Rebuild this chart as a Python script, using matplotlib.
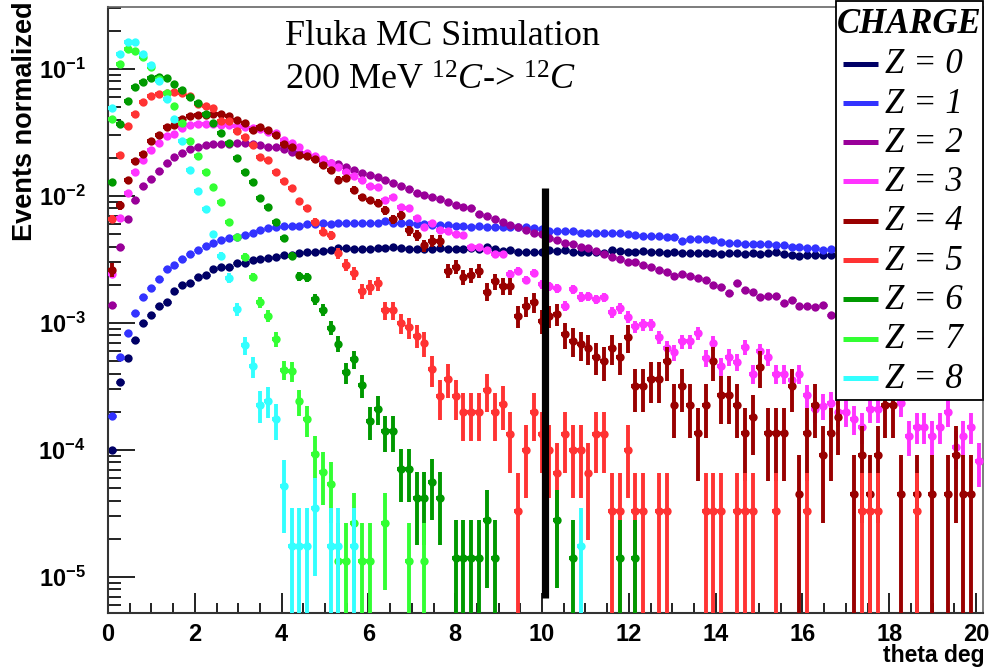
import numpy as np
import matplotlib
matplotlib.use("Agg")
import matplotlib.pyplot as plt
from matplotlib.lines import Line2D
from matplotlib.patches import Rectangle
from matplotlib.ticker import MultipleLocator, LogLocator, FuncFormatter, NullFormatter

plt.rcParams["mathtext.fontset"] = "custom"
plt.rcParams["mathtext.rm"] = "Liberation Serif"
plt.rcParams["mathtext.it"] = "Liberation Serif:italic"
plt.rcParams["mathtext.bf"] = "Liberation Sans:bold"

# ---------------- data ----------------
n_bins = 112
theta_max = 20.16
theta_edges = np.linspace(0.0, theta_max, n_bins + 1)
theta = 0.5 * (theta_edges[:-1] + theta_edges[1:])
half_bin = 0.5 * (theta_edges[1] - theta_edges[0])

charges = [0, 1, 2, 3, 4, 5, 6, 7, 8]
colors = ["#000066", "#3333ff", "#990099", "#ff33ff", "#990000",
          "#ff3333", "#009900", "#33ff33", "#33ffff"]

nan = np.nan
# high statistics series, normalized values (bins hidden behind the legend -> nan)
z0_values = [1.0e-4, 3.46e-4, 5.3e-4, 7.4e-4, 1.0e-3, 1.16e-3, 1.36e-3, 1.47e-3, 1.8e-3, 1.98e-3,
             2.08e-3, 2.29e-3, 2.4e-3, 2.65e-3, 2.75e-3, 2.75e-3, 2.99e-3, 2.99e-3, 3.13e-3, 3.17e-3,
             3.25e-3, 3.33e-3, 3.45e-3, 3.43e-3, 3.58e-3, 3.64e-3, 3.64e-3, 3.68e-3, 3.76e-3, 3.92e-3,
             3.88e-3, 3.85e-3, 3.85e-3, 3.83e-3, 3.88e-3, 3.9e-3, 3.99e-3, 3.9e-3, 3.85e-3, 3.81e-3,
             3.81e-3, 3.81e-3, 3.88e-3, 3.81e-3, 3.81e-3, 3.81e-3, 3.88e-3, 3.81e-3, 3.99e-3, 3.81e-3,
             3.71e-3, 3.76e-3, 3.64e-3, 3.64e-3, 3.64e-3, 3.6e-3, 3.76e-3, 3.71e-3, 3.76e-3, 3.64e-3,
             3.64e-3, 3.64e-3, 3.64e-3, 3.54e-3, 3.76e-3, 3.71e-3, 3.64e-3, 3.64e-3, 3.71e-3, 3.64e-3,
             3.64e-3, 3.58e-3, 3.64e-3, 3.58e-3, 3.54e-3, 3.54e-3, 3.58e-3, 3.54e-3, 3.5e-3, 3.54e-3,
             3.58e-3, 3.5e-3, 3.54e-3, 3.5e-3, 3.54e-3, 3.64e-3, 3.5e-3, 3.43e-3, 3.37e-3, 3.43e-3,
             3.43e-3, 3.43e-3, 3.43e-3, nan, nan, nan, nan, nan, nan, nan,
             nan, nan, nan, nan, nan, nan, nan, nan, nan, nan,
             nan, 3.3e-3]
z1_values = [1.85e-4, 5.4e-4, 8.4e-4, 1.2e-3, 1.59e-3, 1.87e-3, 2.23e-3, 2.65e-3, 2.85e-3, 3.17e-3,
             3.5e-3, 3.76e-3, 4.04e-3, 4.3e-3, 4.5e-3, 4.65e-3, 4.78e-3, 4.93e-3, 5.14e-3, 5.4e-3,
             5.57e-3, 5.67e-3, 5.8e-3, 5.8e-3, 5.8e-3, 6.0e-3, 6.0e-3, 6.1e-3, 6.0e-3, 6.1e-3,
             6.17e-3, 6.17e-3, 6.1e-3, 6.1e-3, 6.17e-3, 6.4e-3, 6.17e-3, 6.17e-3, 6.1e-3, 6.0e-3,
             6.0e-3, 5.9e-3, 5.9e-3, 5.9e-3, 5.8e-3, 5.8e-3, 5.73e-3, 5.8e-3, 5.73e-3, 5.73e-3,
             5.73e-3, 5.73e-3, 5.65e-3, 5.65e-3, 5.57e-3, 5.5e-3, 5.33e-3, 5.33e-3, 5.33e-3, 5.33e-3,
             5.08e-3, 5.08e-3, 5.08e-3, 5.08e-3, 5.08e-3, 5.08e-3, 5.0e-3, 4.93e-3, 4.84e-3, 4.84e-3,
             4.84e-3, 4.73e-3, 4.73e-3, 4.45e-3, 4.56e-3, 4.56e-3, 4.56e-3, 4.5e-3, 4.37e-3, 4.3e-3,
             4.24e-3, 4.2e-3, 4.2e-3, 4.2e-3, 4.2e-3, 4.11e-3, 4.11e-3, 3.99e-3, 3.94e-3, 3.88e-3,
             3.88e-3, 3.76e-3, 3.81e-3, nan, nan, nan, nan, nan, nan, nan,
             nan, nan, nan, nan, nan, nan, nan, nan, nan, nan,
             nan, 3.37e-3]
z2_values = [1.39e-3, 3.99e-3, 6.55e-3, 9.3e-3, 1.2e-2, 1.35e-2, 1.58e-2, 1.81e-2, 2.04e-2, 2.19e-2,
             2.33e-2, 2.45e-2, 2.52e-2, 2.57e-2, 2.57e-2, 2.57e-2, 2.63e-2, 2.63e-2, 2.57e-2, 2.52e-2,
             2.45e-2, 2.43e-2, 2.33e-2, 2.23e-2, 2.18e-2, 2.1e-2, 1.98e-2, 1.9e-2, 1.83e-2, 1.79e-2,
             1.70e-2, 1.60e-2, 1.51e-2, 1.46e-2, 1.40e-2, 1.34e-2, 1.27e-2, 1.2e-2, 1.13e-2, 1.06e-2,
             1.02e-2, 9.9e-3, 9.4e-3, 8.9e-3, 8.5e-3, 8.2e-3, 8.0e-3, 7.2e-3, 6.9e-3, 6.55e-3,
             6.2e-3, 5.9e-3, 5.7e-3, 5.4e-3, 5.1e-3, 5.0e-3, 4.7e-3, 4.5e-3, 4.3e-3, 4.2e-3,
             4.0e-3, 3.9e-3, 3.7e-3, 3.5e-3, 3.3e-3, 3.2e-3, 3.04e-3, 3.04e-3, 2.86e-3, 2.77e-3,
             2.61e-3, 2.53e-3, 2.34e-3, 2.43e-3, 2.34e-3, 2.25e-3, 2.18e-3, 1.99e-3, 1.91e-3, 1.71e-3,
             2.06e-3, 1.82e-3, 1.76e-3, 1.61e-3, 1.63e-3, 1.63e-3, 1.44e-3, 1.52e-3, 1.36e-3, 1.36e-3,
             1.33e-3, 1.39e-3, 1.16e-3, nan, nan, nan, nan, nan, nan, nan,
             nan, nan, nan, nan, nan, nan, nan, nan, nan, nan,
             nan, 7.6e-4]

# low statistics series: raw event counts per bin (normalized to unit area)
z3_counts = [206, 567, 902, 1313, 1632, 1955, 2208, 2535, 2600, 2898,
             3076, 3119, 3119, 3110, 3076, 3076, 3040, 2985, 2930, 2864,
             2724, 2648, 2344, 2233, 2055, 1862, 1754, 1652, 1537, 1437,
             1313, 1221, 1135, 1028, 995, 790, 834, 692, 690, 575,
             484, 521, 463, 450, 426, 419, 337, 335, 322, 297,
             297, 206, 219, 185, 210, 172, 166, 160, 116, 157,
             137, 138, 131, 135, 104, 111, 95, 80, 83, 83,
             66, 54, 50, 61, 61, 71, 45, 59, 39, 46,
             42, 55, 34, 51, 46, 34, 34, 30, 34, 23,
             18, 19, 20, 17, 17, 15, 13, 18, 18, 0,
             0, 20, 11, 13, 13, 11, 13, 17, 9, 11,
             13, 7]
z4_counts = [58, 186, 293, 414, 475, 594, 663, 771, 794, 886,
             940, 965, 965, 982, 982, 940, 870, 834, 726, 771,
             726, 663, 570, 536, 461, 453, 434, 385, 356, 297,
             304, 248, 215, 204, 194, 170, 144, 155, 118, 108,
             90, 98, 98, 57, 61, 51, 53, 57, 39, 47,
             43, 43, 25, 30, 32, 23, 25, 26, 18, 16,
             15, 14, 12, 11, 14, 12, 17, 7, 7, 8,
             8, 11, 5, 7, 5, 3, 5, 11, 6, 6,
             5, 3, 4, 10, 3, 3, 3, 7, 1, 3,
             5, 2, 3, 4, 0, 1, 2, 1, 2, 5,
             5, 1, 0, 1, 0, 1, 0, 1, 2, 1,
             1, 0]
z5_counts = [198, 630, 1075, 1342, 1647, 1852, 1914, 1955, 1984, 1945,
             1842, 1596, 1552, 1490, 1167, 1167, 977, 886, 758, 615,
             578, 469, 394, 349, 276, 241, 189, 158, 149, 107,
             87, 74, 54, 58, 62, 38, 38, 30, 28, 24,
             21, 13, 8, 11, 8, 6, 6, 6, 9, 6,
             7, 4, 1, 3, 6, 4, 3, 2, 4, 3,
             3, 2, 4, 4, 1, 1, 3, 1, 1, 0,
             1, 1, 0, 0, 0, 0, 1, 1, 1, 0,
             1, 1, 1, 0, 0, 1, 0, 0, 0, 1,
             0, 0, 0, 0, 0, 0, 1, 1, 1, 0,
             0, 0, 0, 1, 0, 0, 0, 0, 0, 0,
             0, 0]
z6_counts = [922, 2600, 3965, 5140, 5625, 6050, 6125, 5985, 5370, 4842,
             4288, 3804, 3119, 2648, 2208, 1842, 1419, 1101, 918, 690,
             584, 445, 331, 241, 166, 163, 109, 90, 65, 49,
             29, 37, 23, 12, 15, 10, 10, 5, 5, 3,
             3, 4, 3, 0, 1, 1, 1, 1, 2, 1,
             0, 0, 0, 0, 0, 0, 0, 2, 0, 1,
             0, 0, 0, 0, 0, 1, 0, 1]
z7_counts = [3020, 8180, 10660, 10350, 9250, 7710, 6210, 4790, 3827, 2780,
             2018, 1545, 1156, 881, 671, 467, 352, 248, 172, 109,
             85, 56, 32, 31, 18, 13, 7, 5, 4, 1,
             1, 2, 1, 1, 0, 2, 0, 0, 1, 0,
             1]
z8_counts = [2810, 7440, 9300, 9300, 7520, 6185, 4605, 3298, 2316, 1552,
             908, 627, 449, 286, 194, 129, 73, 38, 26, 13,
             14, 10, 3, 1, 1, 1, 2, 0, 1, 1,
             0, 1, 0, 0, 0, 0, 0, 0, 0, 0,
             0, 0, 0, 0, 0, 0, 0, 0, 0, 0,
             0, 0, 0, 0, 0, 0, 0, 0, 0, 0,
             1]

cut_theta = 10.07
cut_range = (6.8e-6, 1.15e-2)

# ---------------- figure ----------------
W, H, DPI = 991, 671, 100
fig = plt.figure(figsize=(W / DPI, H / DPI), dpi=DPI, facecolor="white")
ax_l, ax_r, ax_t, ax_b = 108, 983, 7, 613.3
ax = fig.add_axes([ax_l / W, 1 - ax_b / H, (ax_r - ax_l) / W, (ax_b - ax_t) / H])
ax.set_yscale("log")
ax.set_xlim(0, theta_max)
ax.set_ylim(5.18e-6, 0.3077)

MS = 6.0
ELW = 2.8

def series_from_values(vals):
    v = np.asarray(vals, dtype=float)
    return v, np.zeros_like(v)

def series_from_counts(counts):
    c = np.zeros(n_bins)
    c[:len(counts)] = counts
    total = c.sum()
    return c / total, np.sqrt(c) / total

all_series = [series_from_values(z0_values), series_from_values(z1_values),
              series_from_values(z2_values)] + \
             [series_from_counts(c) for c in (z3_counts, z4_counts, z5_counts,
                                              z6_counts, z7_counts, z8_counts)]

for i, ((v, e), col) in enumerate(zip(all_series, colors)):
    m = np.isfinite(v) & (v > 0)
    x, y, err = theta[m], v[m], e[m]
    lo = np.minimum(err, y * (1 - 1e-7))
    ax.errorbar(x, y, yerr=[lo, err], xerr=half_bin, fmt="none", ecolor=col,
                elinewidth=ELW if i >= 3 else 2.2, capsize=0, zorder=2 + i)
    ax.plot(x, y, "o", ms=MS, color=col, mew=0, zorder=2 + i)

ax.plot([cut_theta, cut_theta], list(cut_range), color="black", lw=5.2,
        solid_capstyle="butt", zorder=30)

# axes styling
for side in ("left", "bottom"):
    ax.spines[side].set_color("#333333")
    ax.spines[side].set_linewidth(1.5)
for side in ("top", "right"):
    ax.spines[side].set_color("#666666")
    ax.spines[side].set_linewidth(1.2)

ax.xaxis.set_major_locator(MultipleLocator(2))
ax.xaxis.set_minor_locator(MultipleLocator(0.5))
ax.yaxis.set_major_locator(LogLocator(base=10, numticks=20))
ax.yaxis.set_minor_locator(LogLocator(base=10, subs=np.arange(2, 10), numticks=20))
ax.yaxis.set_minor_formatter(NullFormatter())
ax.yaxis.set_major_formatter(FuncFormatter(
    lambda val, pos: r"$\mathbf{10^{%d}}$" % int(round(np.log10(val)))))
ax.xaxis.set_major_formatter(FuncFormatter(lambda val, pos: "%d" % round(val)))

ax.tick_params(which="both", direction="in", top=False, right=False,
               color="#222222", width=1.4)
ax.tick_params(axis="y", which="major", length=19.4, pad=16, labelsize=17)
ax.tick_params(axis="y", which="minor", length=9.7)
ax.tick_params(axis="x", which="major", length=14.4, pad=7, labelsize=17)
ax.tick_params(axis="x", which="minor", length=7.2)
for lab in ax.get_xticklabels():
    lab.set_fontfamily("Liberation Sans")
    lab.set_fontweight("bold")

# axis titles
fig.text(25 / W, 1 - 1 / H, "Events normalized", rotation=90, ha="center", va="top",
         fontsize=19.5, fontweight="bold", family="Liberation Sans")
fig.text(985 / W, 1 - 662 / H, "theta deg", ha="right", va="baseline",
         fontsize=16.5, fontweight="bold", family="Liberation Sans")

# annotation
fig.text(285 / W, 1 - 45 / H, "Fluka MC Simulation", ha="left", va="baseline",
         fontsize=26, family="Liberation Serif")
fig.text(285 / W, 1 - 90 / H, r"200 MeV $^{12}C$-> $^{12}C$", ha="left", va="baseline",
         fontsize=26, family="Liberation Serif")

# legend (ROOT-like box)
lg_l, lg_r, lg_t, lg_b = 836, 983, 1, 400
fig.add_artist(Rectangle((lg_l / W, 1 - lg_b / H), (lg_r - lg_l) / W, (lg_b - lg_t) / H,
                         transform=fig.transFigure, facecolor="white",
                         edgecolor="black", lw=1.3, zorder=5))
fig.text((lg_l + lg_r) / 2 / W, 1 - 33 / H, "CHARGE", ha="center", va="baseline",
         fontsize=25, fontstyle="italic", fontweight="bold",
         family="Liberation Serif", zorder=6)
row_step = 39.3
for i, (z, col) in enumerate(zip(charges, colors)):
    y_line = 63.5 + row_step * i
    y_base = 73.3 + row_step * i
    fig.add_artist(Line2D([843 / W, 878 / W], [1 - y_line / H] * 2,
                          transform=fig.transFigure, color=col, lw=3.6,
                          solid_capstyle="butt", zorder=6))
    fig.text(885 / W, 1 - y_base / H, "Z = %d" % z, ha="left", va="baseline",
             fontsize=25, fontstyle="italic", family="Liberation Serif", zorder=6)

fig.savefig("out.png", dpi=DPI, facecolor="white")
